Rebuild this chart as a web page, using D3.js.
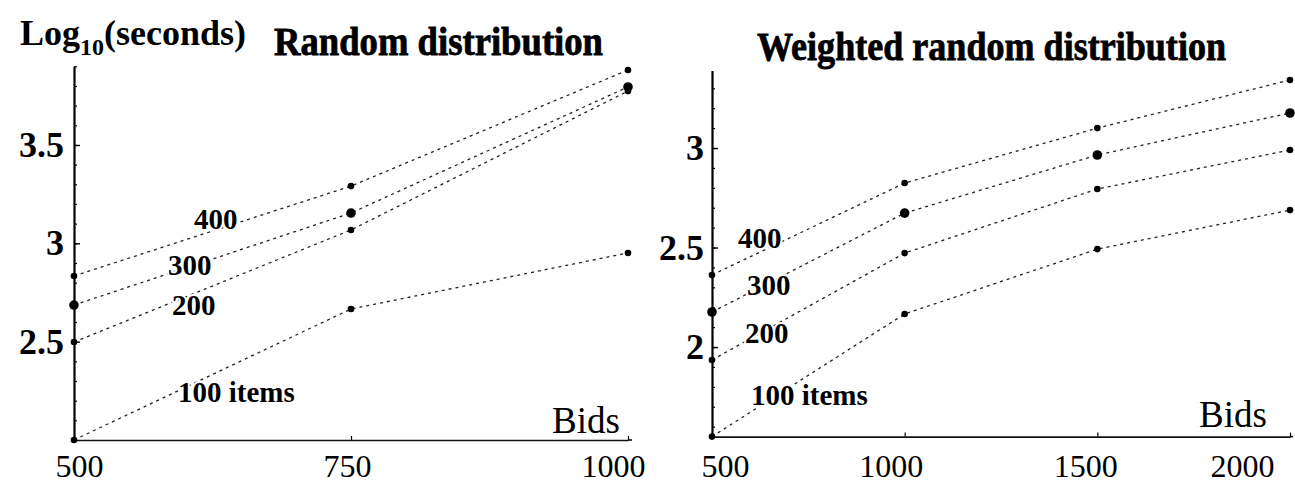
<!DOCTYPE html>
<html><head><meta charset="utf-8">
<script src="https://cdn.jsdelivr.net/npm/d3@7"></script>
<style>
html,body{margin:0;padding:0;background:#fff;}
svg{display:block;background:#fff;}
text{font-family:"Liberation Serif","Times New Roman",serif;fill:#000;}
</style></head><body>
<svg id="c" width="1295" height="484"></svg>
<script>
// ---- data ----
const bidsRandom = [500, 750, 1000];
const random400 = [2.834, 3.291, 3.881];
const random300 = [2.686, 3.154, 3.795];
const random200 = [2.498, 3.068, 3.774];
const random100 = [2.0, 2.666, 2.951];

const bidsWeighted = [500, 1000, 1500, 2000];
const weighted400 = [2.362, 2.824, 3.10, 3.342];
const weighted300 = [2.176, 2.673, 2.965, 3.176];
const weighted200 = [1.935, 2.472, 2.794, 2.99];
const weighted100 = [1.55, 2.166, 2.492, 2.688];

const seriesNames = ["400", "300", "200", "100 items"];
const yTicksRandom = [2.5, 3, 3.5];
const yTicksWeighted = [2, 2.5, 3];
const xTicksRandom = [500, 750, 1000];
const xTicksWeighted = [500, 1000, 1500, 2000];
const panelTitles = ["Random distribution", "Weighted random distribution"];
const xAxisTitle = "Bids";

// ---- drawing ----
const svg = d3.select("#c");

const panels = [
  {
    bids: bidsRandom, series: [random400, random300, random200, random100],
    yTicks: yTicksRandom, xTicks: xTicksRandom, title: panelTitles[0],
    xDomain: [500, 1000], xRange: [74, 628], xEnd: 632,
    yDomain: [2, 3.9], yRange: [440, 66.3],
    yPad: 10, xPad: 14, xNudge: [5, -4, -15],
    titlePos: [274, 55, 329],
    labelPos: [[194, 229], [168, 275], [172, 315], [178, 402]],
    bidsPos: [552, 433]
  },
  {
    bids: bidsWeighted, series: [weighted400, weighted300, weighted200, weighted100],
    yTicks: yTicksWeighted, xTicks: xTicksWeighted, title: panelTitles[1],
    xDomain: [500, 2000], xRange: [712, 1290], xEnd: 1293,
    yDomain: [1.55, 3.39], yRange: [436.6, 70.4],
    yPad: 8, xPad: 17.5, xNudge: [13, -14, -12, -48],
    titlePos: [757, 60, 469],
    labelPos: [[738, 248], [747, 295], [745, 343], [751, 405]],
    bidsPos: [1199, 427]
  }
];

const markerR = [3.3, 4.8, 3.3, 3.3];

panels.forEach(p => {
  const g = svg.append("g");
  const x = d3.scaleLinear().domain(p.xDomain).range(p.xRange);
  const y = d3.scaleLinear().domain(p.yDomain).range(p.yRange);
  const x0 = p.xRange[0], y0 = p.yRange[0];

  // minor ticks on y
  const yMinor = d3.range(Math.ceil(p.yDomain[0] * 10 + 1e-6), Math.floor(p.yDomain[1] * 10) + 1).map(v => v / 10);
  const gyMinor = g.append("g").attr("transform", `translate(${x0},0)`)
    .call(d3.axisLeft(y).tickValues(yMinor).tickSize(-3).tickSizeOuter(0).tickFormat(""));
  gyMinor.select(".domain").remove();
  gyMinor.selectAll("line").attr("stroke", "#000").attr("stroke-width", 1.2);

  // major y axis
  const gy = g.append("g").attr("transform", `translate(${x0},0)`)
    .call(d3.axisLeft(y).tickValues(p.yTicks).tickSize(-6).tickSizeOuter(0).tickPadding(p.yPad)
      .tickFormat(d => String(d)));
  gy.select(".domain").attr("stroke", "#000").attr("stroke-width", 2.2);
  gy.selectAll("line").attr("stroke", "#000").attr("stroke-width", 1.4);
  gy.selectAll("text").attr("font-size", 36).attr("font-weight", "bold")
    .attr("font-family", "Liberation Serif, serif");

  // x axis
  const gx = g.append("g").attr("transform", `translate(0,${y0})`)
    .call(d3.axisBottom(x).tickValues(p.xTicks).tickSize(-4).tickSizeOuter(0).tickPadding(p.xPad)
      .tickFormat(d => String(d)));
  gx.select(".domain").attr("stroke", "#111").attr("stroke-width", 1.6);
  gx.selectAll("line").attr("stroke", "#000").attr("stroke-width", 1.2);
  gx.selectAll("text").attr("font-size", 32).attr("font-family", "Liberation Serif, serif")
    .attr("dx", (d, i) => p.xNudge[i]);
  g.append("line").attr("x1", p.xRange[1]).attr("x2", p.xEnd).attr("y1", y0).attr("y2", y0)
    .attr("stroke", "#111").attr("stroke-width", 1.6);

  // series lines
  const line = d3.line().x(d => x(d[0])).y(d => y(d[1]));
  p.series.forEach((vals, si) => {
    const pts = p.bids.map((b, i) => [b, vals[i]]);
    g.append("path").datum(pts).attr("d", line)
      .attr("fill", "none").attr("stroke", "#222").attr("stroke-width", 1.3)
      .attr("stroke-dasharray", "3 4");
  });
  p.series.forEach((vals, si) => {
    g.selectAll(null).data(p.bids.map((b, i) => [b, vals[i]])).enter().append("circle")
      .attr("cx", d => x(d[0])).attr("cy", d => y(d[1])).attr("r", markerR[si]).attr("fill", "#000");
  });

  // series labels
  seriesNames.forEach((name, si) => {
    g.append("text").attr("x", p.labelPos[si][0]).attr("y", p.labelPos[si][1])
      .attr("font-size", 29).attr("font-weight", "bold")
      .attr("stroke", "#fff").attr("stroke-width", 4).attr("paint-order", "stroke")
      .text(name);
  });

  // Bids
  g.append("text").attr("x", p.bidsPos[0]).attr("y", p.bidsPos[1]).attr("font-size", 37).text(xAxisTitle);

  // title
  g.append("text").attr("x", p.titlePos[0]).attr("y", p.titlePos[1])
    .attr("font-size", 40).attr("font-weight", "bold")
    .attr("stroke", "#000").attr("stroke-width", 0.8)
    .attr("textLength", p.titlePos[2]).attr("lengthAdjust", "spacingAndGlyphs")
    .text(p.title);
});

// y-axis title with subscript
const yt = svg.append("text").attr("x", 20).attr("y", 45).attr("font-size", 36).attr("font-weight", "bold");
yt.append("tspan").text("Log");
yt.append("tspan").attr("font-size", 24).attr("dy", 10).text("10");
yt.append("tspan").attr("dy", -10).text("(seconds)");
</script>
</body></html>
